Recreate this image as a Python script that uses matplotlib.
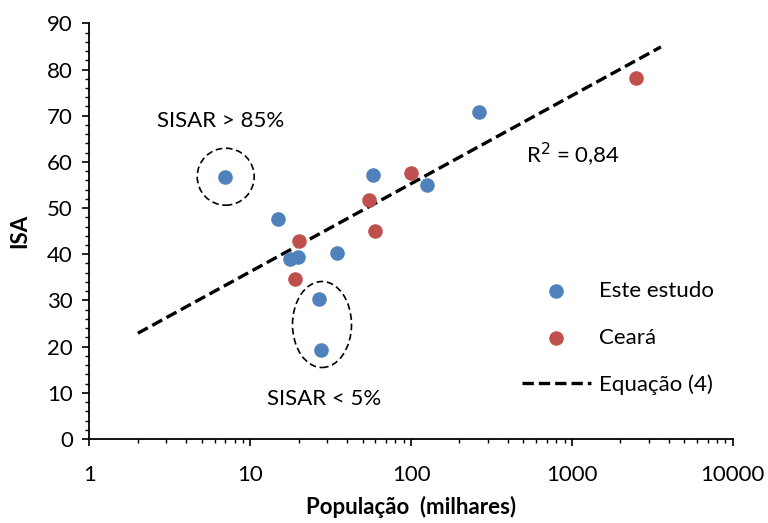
import matplotlib
matplotlib.use("Agg")
import matplotlib.pyplot as plt
from matplotlib.patches import Ellipse
from matplotlib.ticker import LogLocator, FixedLocator, MultipleLocator, NullFormatter
import numpy as np

plt.rcParams['font.family'] = ['Lato', 'DejaVu Sans']

# Data (population in thousands, ISA)
este_pop = [7.0, 14.8, 17.7, 19.7, 34.8, 26.9, 27.7, 57.9, 125.6, 264]
este_isa = [56.8, 47.7, 39.0, 39.4, 40.3, 30.4, 19.2, 57.1, 54.9, 70.8]

ceara_pop = [20.2, 19.0, 55.0, 59.6, 100, 2500]
ceara_isa = [42.8, 34.6, 51.8, 45.0, 57.6, 78.2]

eq_pop = [2.0, 3580]
eq_isa = [22.9, 84.9]

x_ticks = [1, 10, 100, 1000, 10000]
x_ticklabels = ['1', '10', '100', '1000', '10000']

blue = '#4F81BD'
red = '#C0504D'

fig = plt.figure(figsize=(7.68, 5.23), dpi=100)
ax = fig.add_axes([0.1165, 0.1606, 0.8375, 0.7948])

ax.set_xscale('log')
ax.set_xlim(1, 10000)
ax.set_ylim(0, 90)

ax.scatter(este_pop, este_isa, s=110, color=blue, zorder=3, linewidths=0, label='Este estudo')
ax.scatter(ceara_pop, ceara_isa, s=110, color=red, zorder=3, linewidths=0, label='Ceará')
ax.plot(eq_pop, eq_isa, color='black', lw=2.4, dashes=(3.4, 1.5), zorder=2, label='Equação (4)')


def ref_to_data(px, py):
    return ax.transData.inverted().transform((px, 523 - py))


def add_ellipse(px, py, wpx, hpx):
    el = Ellipse((px, 523 - py), wpx, hpx, fill=False, lw=1.2, color='black',
                 ls=(0, (4, 2.2)), transform=None, zorder=2)
    fig.add_artist(el)


add_ellipse(225.7, 176.7, 57, 57)
add_ellipse(322, 324.5, 59, 86)

fs = 16
ax.text(*ref_to_data(221, 121), 'SISAR > 85%', fontsize=fs, ha='center', va='center')
ax.text(*ref_to_data(324, 399), 'SISAR < 5%', fontsize=fs, ha='center', va='center')
ax.text(*ref_to_data(526, 155), 'R$^2$ = 0,84', fontsize=fs, ha='left', va='center')

ax.xaxis.set_major_locator(FixedLocator(x_ticks))
ax.set_xticklabels(x_ticklabels)
ax.xaxis.set_minor_locator(LogLocator(base=10, subs=np.arange(2, 10)))
ax.xaxis.set_minor_formatter(NullFormatter())
ax.yaxis.set_major_locator(MultipleLocator(10))
ax.yaxis.set_minor_locator(MultipleLocator(2))

ax.tick_params(which='major', direction='out', length=5, width=1.2, labelsize=fs, pad=7)
ax.tick_params(which='minor', direction='out', length=3, width=1.0)
ax.tick_params(axis='x', which='major', pad=14)

for s in ['top', 'right']:
    ax.spines[s].set_visible(False)
for s in ['left', 'bottom']:
    ax.spines[s].set_linewidth(1.3)

fig.text((89.5 + 732.7) / 2 / 768, (523 - 514) / 523, 'População  (milhares)',
         fontsize=fs, fontweight='bold', ha='center', va='baseline')
ax.set_ylabel('ISA', fontsize=fs, fontweight='bold', labelpad=12)

leg = ax.legend(loc='upper left', bbox_to_anchor=((513 - 89.5) / 643.2, (523 - 272 - 84) / 415.7),
                frameon=False, fontsize=fs, handlelength=3.1, handletextpad=0.35,
                labelspacing=1.2, borderaxespad=0)

fig.savefig('out.png', dpi=100)
